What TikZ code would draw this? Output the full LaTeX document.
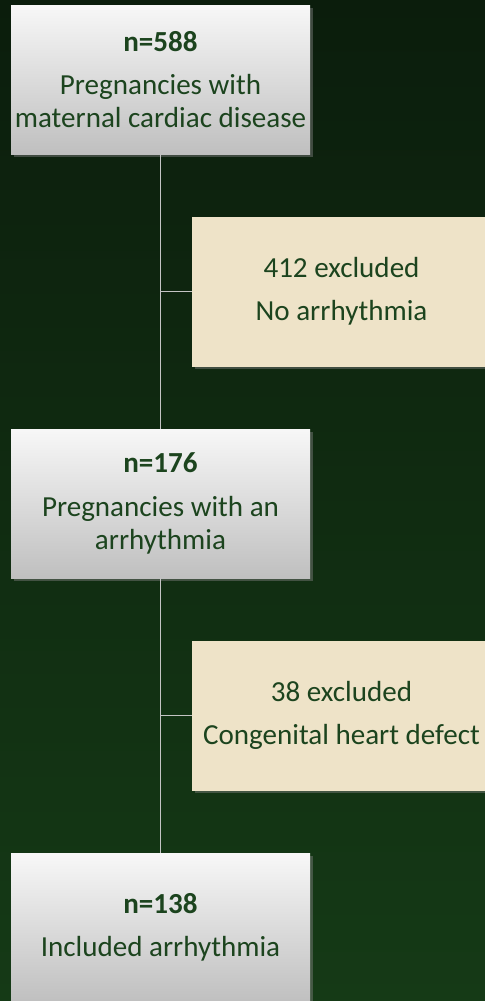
\documentclass[tikz,border=0pt]{standalone}
\usepackage{fontspec}
\setmainfont{Carlito}
\usepackage{tikz}
\usetikzlibrary{shadows}
\definecolor{bgtop}{RGB}{11,29,12}
\definecolor{bgbot}{RGB}{21,58,22}
\definecolor{txtgreen}{RGB}{28,68,30}
\definecolor{beige}{RGB}{238,227,200}
\definecolor{linegray}{RGB}{196,196,196}
\tikzset{
  countbox/.style = {minimum width=299*0.75pt, minimum height=149*0.75pt,
                     inner sep=0pt, align=center, text=txtgreen,
                     top color=white!97!black, bottom color=black!25,
                     font=\fontsize{21.8}{24.6}\selectfont,
                     drop shadow={shadow xshift=2pt, shadow yshift=-2pt, opacity=0.45}},
  exclbox/.style  = {countbox, top color=beige, bottom color=beige},
  flowline/.style = {linegray, line width=1.1pt}
}

\begin{document}
\begin{tikzpicture}[x=0.75pt,y=-0.75pt]
  \useasboundingbox (0,0) rectangle (485,1001);
  \clip (0,0) rectangle (485,1001);
  \shade[top color=bgtop, bottom color=bgbot] (0,0) rectangle (485,1001);
  % main column
  \node[countbox] (total) at (160.5,79.5)
       {\textbf{n=588}\\[8pt]Pregnancies with\\maternal cardiac disease};
  \node[countbox] (arrh) at (160.5,503.5)
       {\textbf{n=176}\\[8pt]Pregnancies with an\\arrhythmia};
  \node[countbox] (incl) at (160.5,927.5)
       {\textbf{n=138}\\[8pt]Included arrhythmia};
  % exclusions
  \node[exclbox] (noarrh) at (341.5,291.5) {412 excluded\\[8pt]No arrhythmia};
  \node[exclbox] (chd) at (341.5,715.5) {38 excluded\\[8pt]Congenital heart defect};
  \draw[flowline] (total.south) -- (arrh.north);
  \draw[flowline] (arrh.south) -- (incl.north);
  \draw[flowline] (noarrh.west) -- (noarrh.west -| total.south);
  \draw[flowline] (chd.west) -- (chd.west -| arrh.south);
\end{tikzpicture}
\end{document}
